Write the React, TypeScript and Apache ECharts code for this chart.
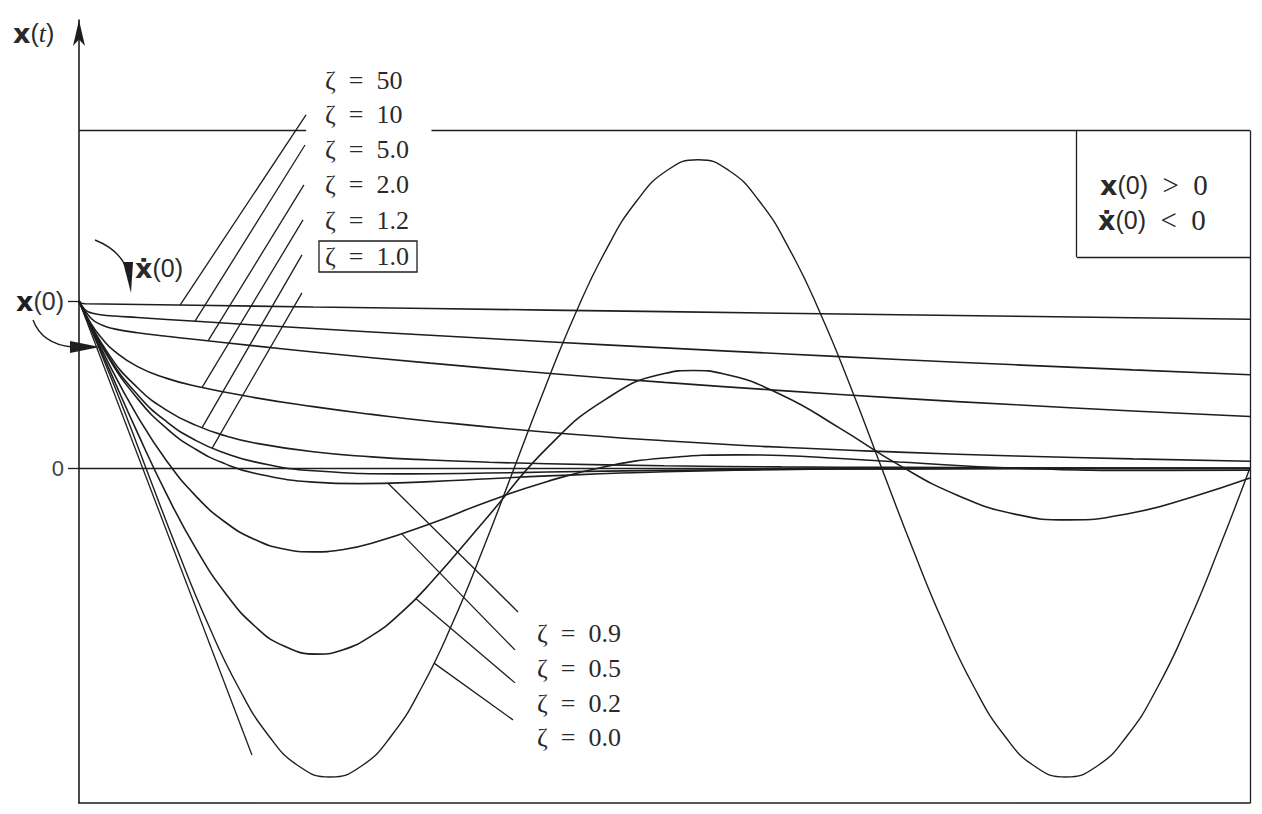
import React, { useEffect, useRef } from "react";
import * as echarts from "echarts";

// ---- data (t in units of 1/ωn, x in units of x(0)) ----
const tZeta0 = [0, 0.311, 0.573, 0.835, 1.097, 1.359, 1.62, 1.882, 2.144, 2.406, 2.668, 2.929, 3.191, 3.453, 3.715, 3.977, 4.238, 4.5, 4.762, 5.024, 5.286, 5.547, 5.809, 6.071, 6.333, 6.595, 6.856, 7.118, 7.38, 7.642, 7.904, 8.165, 8.427, 8.689, 8.951, 9.213, 9.474, 9.736, 10];
const xZeta0 = [1, 0.478, 0, -0.478, -0.923, -1.305, -1.598, -1.782, -1.845, -1.782, -1.598, -1.305, -0.923, -0.478, 0, 0.478, 0.923, 1.305, 1.598, 1.782, 1.845, 1.782, 1.598, 1.305, 0.923, 0.478, 0, -0.478, -0.923, -1.305, -1.598, -1.782, -1.845, -1.782, -1.598, -1.305, -0.923, -0.478, 0.004];

const tZeta02 = [0, 0.25, 0.5, 0.75, 1, 1.25, 1.5, 1.75, 2.04, 2.25, 2.5, 2.75, 3, 3.5, 4, 4.5, 5, 5.244, 5.5, 6, 6.5, 7, 7.5, 8, 8.45, 9, 9.5, 10];
const xZeta02 = [1, 0.605, 0.212, -0.157, -0.481, -0.746, -0.942, -1.062, -1.11, -1.086, -1.0, -0.864, -0.687, -0.281, 0.124, 0.414, 0.567, 0.585, 0.566, 0.439, 0.239, 0.021, -0.16, -0.275, -0.308, -0.265, -0.172, -0.058];

const tZeta05 = [0, 0.25, 0.5, 0.75, 1, 1.25, 1.5, 1.75, 2, 2.25, 2.5, 3, 3.5, 4, 4.5, 5, 5.63, 6, 6.5, 7, 8, 9.26, 10];
const xZeta05 = [1, 0.632, 0.311, 0.043, -0.167, -0.322, -0.425, -0.482, -0.499, -0.486, -0.448, -0.331, -0.196, -0.078, 0.011, 0.062, 0.081, 0.077, 0.059, 0.038, 0.001, -0.013, -0.011];

const tNear1 = [0, 0.25, 0.5, 0.75, 1, 1.25, 1.5, 2, 2.39, 3, 3.5, 4, 5, 6, 7, 8, 10];
const xZeta09 = [1, 0.664, 0.417, 0.238, 0.113, 0.027, -0.029, -0.082, -0.091, -0.079, -0.062, -0.045, -0.02, -0.007, -0.002, 0, 0];
const tCrit = [0, 0.25, 0.5, 0.75, 1, 1.25, 1.5, 2, 2.82, 3.5, 4, 5, 6, 7, 8, 10];
const xZeta10 = [1, 0.672, 0.44, 0.278, 0.166, 0.09, 0.039, -0.014, -0.033, -0.028, -0.022, -0.012, -0.006, -0.003, -0.001, 0];
const tZeta12 = [0, 0.25, 0.5, 0.75, 1, 1.25, 1.5, 2, 2.5, 3, 3.5, 4, 5, 6, 7, 8, 10];
const xZeta12 = [1, 0.686, 0.482, 0.347, 0.257, 0.195, 0.152, 0.099, 0.069, 0.05, 0.037, 0.028, 0.016, 0.009, 0.006, 0.003, 0.001];

const tZeta2 = [0, 0.1, 0.2, 0.3, 0.5, 0.75, 1, 1.5, 2, 2.5, 3, 4, 5, 6, 7, 8, 9, 10];
const xZeta2 = [1, 0.868, 0.773, 0.702, 0.608, 0.538, 0.491, 0.423, 0.369, 0.323, 0.282, 0.216, 0.165, 0.126, 0.097, 0.074, 0.057, 0.043];

const tZeta5 = [0, 0.1, 0.2, 0.3, 0.5, 0.75, 1, 1.5, 2, 3, 4, 5, 6, 7, 8, 9, 10];
const xZeta5 = [1, 0.899, 0.855, 0.834, 0.811, 0.79, 0.77, 0.732, 0.696, 0.629, 0.569, 0.514, 0.465, 0.42, 0.38, 0.343, 0.31];

const tZeta10 = [0, 0.05, 0.1, 0.2, 0.3, 0.5, 1, 2, 3, 4, 5, 6, 7, 8, 9, 10];
const xZeta10b = [1, 0.95, 0.93, 0.917, 0.911, 0.902, 0.879, 0.836, 0.796, 0.757, 0.72, 0.685, 0.651, 0.619, 0.589, 0.56];

const tZeta50 = [0, 0.02, 0.05, 1, 2, 3, 4, 5, 6, 7, 8, 9, 10];
const xZeta50 = [1, 0.987, 0.984, 0.975, 0.965, 0.956, 0.946, 0.937, 0.927, 0.918, 0.909, 0.9, 0.891];

const upperLabels = ["ζ = 50", "ζ = 10", "ζ = 5.0", "ζ = 2.0", "ζ = 1.2", "ζ = 1.0"];
const lowerLabels = ["ζ = 0.9", "ζ = 0.5", "ζ = 0.2", "ζ = 0.0"];
const yTickValues = [0, 1];

// ---- annotation geometry (data coordinates) ----
const upperLeaders: number[][][] = [
  [[0.863, 0.976], [1.939, 2.113]],
  [[0.991, 0.88], [1.93, 1.933]],
  [[1.102, 0.762], [1.921, 1.694]],
  [[1.05, 0.483], [1.913, 1.485]],
  [[1.05, 0.242], [1.904, 1.276]],
  [[1.136, 0.12], [1.904, 1.049]],
];
const lowerLeaders: number[][][] = [
  [[2.639, -0.089], [3.749, -0.858]],
  [[2.758, -0.393], [3.723, -1.085]],
  [[2.878, -0.779], [3.723, -1.282]],
  [[3.032, -1.164], [3.706, -1.503]],
];
const tangentLine: number[][] = [[0, 1], [1.477, -1.713]];
const TOP = 2.02;
const BOX_T = 8.52;
const BOX_Y = 1.264;

const INK = "#1e1e1e";
const zip = (t: number[], x: number[]) => t.map((v, i) => [v, x[i]]);

const rich = {
  b: { fontFamily: "DejaVu Sans", fontWeight: "bold", fontSize: 27, color: INK },
  n: { fontFamily: "Liberation Sans", fontSize: 25, color: "#333" },
  s: { fontFamily: "Liberation Serif", fontSize: 29, color: "#333" },
  i: { fontFamily: "Liberation Serif", fontStyle: "italic", fontSize: 26, color: "#333" },
  p: { fontFamily: "Liberation Sans", fontSize: 25, color: "#333" },
};

function txt(x: number, y: number, text: string, extra: any = {}) {
  return {
    type: "text",
    x,
    y,
    z: 20,
    style: {
      text,
      fill: "#2a2a2a",
      font: "26px 'Liberation Serif'",
      align: "left",
      textAlign: "left",
      verticalAlign: "middle",
      textVerticalAlign: "middle",
      ...extra,
    },
  };
}

export default function App() {
  const ref = useRef<HTMLDivElement>(null);
  useEffect(() => {
    const chart = echarts.init(ref.current!, null, { renderer: "svg" });
    const curve = (name: string, data: number[][], smooth: boolean | number = true) => ({
      name,
      type: "line",
      data,
      smooth,
      showSymbol: false,
      silent: true,
      lineStyle: { color: INK, width: 1.6 },
    });
    const seg = (a: number[], b: number[]) => [{ coord: a }, { coord: b }];
    const markLines = [
      seg([0, 0], [10, 0]),
      seg([0, TOP], [1.94, TOP]),
      seg([3.01, TOP], [10, TOP]),
      seg([10, -2], [10, TOP]),
      seg([BOX_T, TOP], [BOX_T, BOX_Y]),
      seg([BOX_T, BOX_Y], [10, BOX_Y]),
      seg(tangentLine[0], tangentLine[1]),
      ...upperLeaders.map((l) => seg(l[0], l[1])),
      ...lowerLeaders.map((l) => seg(l[0], l[1])),
    ];
    const graphics: any[] = [
      txt(13, 33, "{b|x}{p|(}{i|t}{p|)}", { rich }),
      txt(135, 268, "{b|ẋ}{n|(0)}", { rich }),
      txt(1100, 185, "{b|x}{n|(0)}{s|\u2002>\u20020}", { rich }),
      txt(1098, 220, "{b|ẋ}{n|(0)}{s|\u2002<\u20020}", { rich }),
      ...upperLabels.map((s, i) => txt(325, [80, 114, 149, 184, 220, 256][i], s.replace(/ /g, "\u2002"))),
      ...lowerLabels.map((s, i) => txt(537, [633, 668, 703, 737][i], s.replace(/ /g, "\u2002"))),
      {
        type: "rect",
        z: 20,
        shape: { x: 319, y: 241, width: 98, height: 31 },
        style: { fill: "none", stroke: INK, lineWidth: 1.3 },
      },
      {
        type: "bezierCurve",
        z: 20,
        shape: { x1: 33, y1: 320, cpx1: 42, cpy1: 344, x2: 72, y2: 347 },
        style: { stroke: INK, lineWidth: 1.4, fill: "none" },
      },
      {
        type: "polygon",
        z: 20,
        shape: { points: [[100, 347], [70, 341], [70, 353]] },
        style: { fill: INK },
      },
      {
        type: "bezierCurve",
        z: 20,
        shape: { x1: 95, y1: 240, cpx1: 120, cpy1: 250, x2: 127, y2: 270 },
        style: { stroke: INK, lineWidth: 1.4, fill: "none" },
      },
      {
        type: "polygon",
        z: 20,
        shape: { points: [[131, 293], [123, 262], [133, 262]] },
        style: { fill: INK },
      },
    ];
    const option: any = {
      animation: false,
      backgroundColor: "#ffffff",
      grid: { left: 79, right: 12, top: 20, bottom: 11 },
      xAxis: {
        type: "value",
        min: 0,
        max: 10,
        axisLine: { show: true, onZero: false, lineStyle: { color: INK, width: 1.6 } },
        axisTick: { show: false },
        axisLabel: { show: false },
        splitLine: { show: false },
      },
      yAxis: {
        type: "value",
        min: -2,
        max: 2.68,
        axisLine: {
          show: true,
          onZero: false,
          symbol: ["none", "arrow"],
          symbolSize: [9, 26],
          lineStyle: { color: INK, width: 1.6 },
        },
        axisTick: {
          show: true,
          customValues: yTickValues,
          length: 11,
          lineStyle: { color: INK, width: 1.3 },
        },
        axisLabel: {
          show: true,
          customValues: yTickValues,
          margin: 15,
          color: "#444",
          fontFamily: "Liberation Sans",
          fontSize: 22,
          formatter: (v: number) => (v === 0 ? "0" : v === 1 ? "{b|x}{n|(0)}" : ""),
          rich,
        },
        splitLine: { show: false },
      },
      series: [
        {
          ...curve("ζ = 50", zip(tZeta50, xZeta50), false),
          markLine: {
            silent: true,
            symbol: ["none", "none"],
            label: { show: false },
            lineStyle: { color: INK, width: 1.3, type: "solid" },
            data: markLines,
          },
        },
        curve("ζ = 10", zip(tZeta10, xZeta10b)),
        curve("ζ = 5.0", zip(tZeta5, xZeta5)),
        curve("ζ = 2.0", zip(tZeta2, xZeta2)),
        curve("ζ = 1.2", zip(tZeta12, xZeta12)),
        curve("ζ = 1.0", zip(tCrit, xZeta10)),
        curve("ζ = 0.9", zip(tNear1, xZeta09)),
        curve("ζ = 0.5", zip(tZeta05, xZeta05)),
        curve("ζ = 0.2", zip(tZeta02, xZeta02)),
        { ...curve("ζ = 0.0", zip(tZeta0, xZeta0)), lineStyle: { color: INK, width: 1.4 } },
      ],
      graphic: graphics,
    };
    chart.setOption(option);
    return () => chart.dispose();
  }, []);
  return (
    <div
      ref={ref}
      style={{ position: "fixed", left: 0, top: 0, width: 1262, height: 814, background: "#fff" }}
    />
  );
}
